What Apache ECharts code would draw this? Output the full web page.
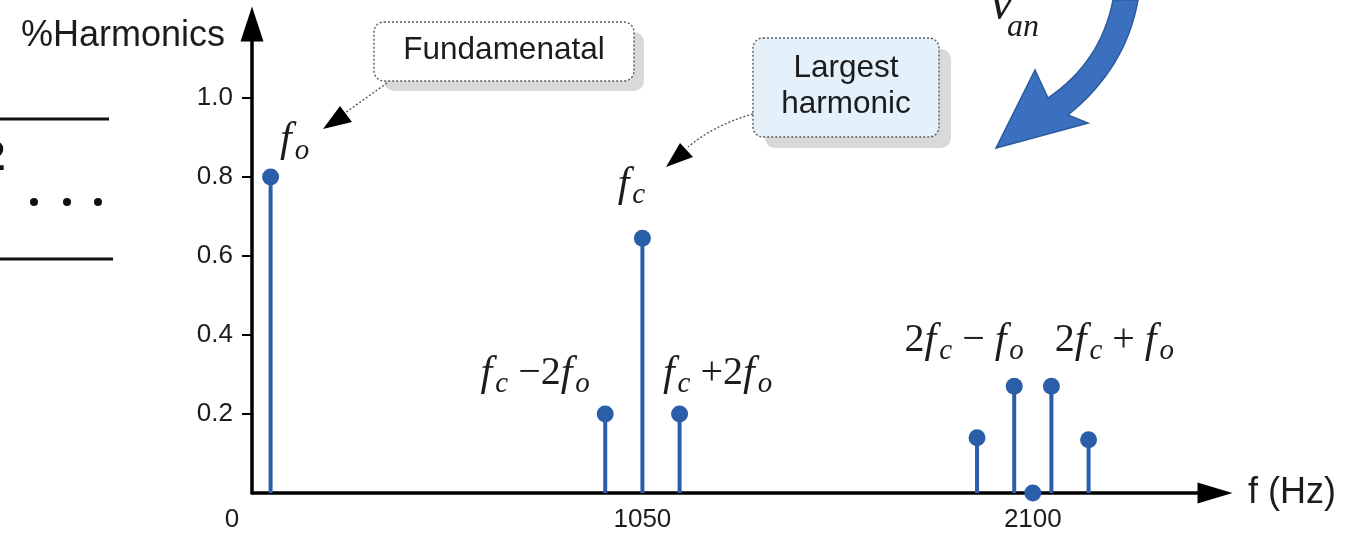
<!DOCTYPE html>
<html>
<head>
<meta charset="utf-8">
<script src="https://cdn.jsdelivr.net/npm/echarts@6/dist/echarts.min.js"></script>
<style>
html,body{margin:0;padding:0;background:#fff;}
#chart{width:1356px;height:537px;}
</style>
</head>
<body>
<div id="chart"></div>
<script>
// ---- data ----
const freqHz = [50, 950, 1050, 1150, 1950, 2050, 2100, 2150, 2250];
const harmonics = [0.80, 0.20, 0.645, 0.20, 0.14, 0.27, 0.0, 0.27, 0.135];
const stemLabels = [
  '{f|f}{s|o}',
  '{f|f}{s|c}{n| \u22122}{f|f}{s|o}',
  '{f|f}{s|c}',
  '{f|f}{s|c}{n| +2}{f|f}{s|o}',
  '',
  '{n|2}{f|f}{s|c}{n| \u2212 }{f|f}{s|o}',
  '',
  '{n|2}{f|f}{s|c}{n| + }{f|f}{s|o}',
  ''
];
const xTickValues = [0, 1050, 2100];
const yTickValues = [0.2, 0.4, 0.6, 0.8, 1.0];
const yAxisTitle = '%Harmonics';
const xAxisTitle = 'f (Hz)';
const calloutFund = 'Fundamenatal';
const calloutLargest = 'Largest\nharmonic';

// ---- styling / layout ----
const BLUE = '#2a5ea8';
const INK = '#1c1c1c';
const SANS = 'Liberation Sans, Arial, sans-serif';
const SERIF = 'Liberation Serif, Times New Roman, serif';
// label layout per stem index: [dx, distance]
const labelLayout = {0: [24, 4], 1: [-70, 8], 2: [-11, 21], 3: [38, 8], 5: [-50, 13], 7: [63, 13]};

const richMath = {
  f: {fontFamily: SERIF, fontStyle: 'italic', fontSize: 42, lineHeight: 48, color: INK},
  s: {fontFamily: SERIF, fontStyle: 'italic', fontSize: 29, lineHeight: 29, padding: [22, 0, 0, 3], color: INK},
  n: {fontFamily: SERIF, fontSize: 40, lineHeight: 48, color: INK}
};

const points = freqHz.map((x, i) => {
  const item = {value: [x, harmonics[i]]};
  if (stemLabels[i]) {
    const lay = labelLayout[i] || [0, 10];
    item.label = {show: true, position: 'top', distance: lay[1], offset: [lay[0], 0],
      formatter: stemLabels[i], rich: richMath, color: INK, opacity: 1};
  }
  return item;
});

// quadratic curve sampler for decorative shapes
function quad(p0, c, p1, n) {
  const out = [];
  for (let k = 0; k <= n; k++) {
    const t = k / n, u = 1 - t;
    out.push([u * u * p0[0] + 2 * u * t * c[0] + t * t * p1[0], u * u * p0[1] + 2 * u * t * c[1] + t * t * p1[1]]);
  }
  return out;
}
const bigArrow = [].concat(
  quad([1113, 0], [1101, 62], [1048, 98], 16),
  [[1035, 70], [996, 148], [1088, 123]],
  quad([1068, 115], [1126, 68], [1138, 0], 16)
);

const chart = echarts.init(document.getElementById('chart'), null, {renderer: 'canvas'});

const dashed = {stroke: '#5a5a5a', lineWidth: 1.4, lineDash: [2, 2], fill: null};

chart.setOption({
  animation: false,
  backgroundColor: '#fff',
  grid: {left: 252, right: 141, top: 24, bottom: 44, containLabel: false, outerBoundsMode: 'none'},
  xAxis: {
    type: 'value', min: 0, max: 2590,
    name: xAxisTitle, nameLocation: 'end', nameGap: 33,
    nameTextStyle: {fontFamily: SANS, fontSize: 36, color: INK, verticalAlign: 'middle'},
    axisLine: {show: true, onZero: false, symbol: ['none', 'triangle'], symbolSize: [21, 35],
      lineStyle: {color: '#000', width: 3.5}},
    axisTick: {show: false},
    splitLine: {show: false},
    axisLabel: {customValues: xTickValues, margin: 14, fontFamily: SANS, fontSize: 26, color: INK,
      formatter: v => v === 0 ? '{z|0}' : String(v),
      rich: {z: {fontFamily: SANS, fontSize: 26, color: INK, padding: [0, 40, 0, 0]}}}
  },
  yAxis: {
    type: 'value', min: 0, max: 1.187,
    name: yAxisTitle, nameLocation: 'end', nameGap: -12,
    nameTextStyle: {fontFamily: SANS, fontSize: 36, color: INK, align: 'right', verticalAlign: 'middle', padding: [0, 27, 0, 0]},
    axisLine: {show: true, onZero: false, symbol: ['none', 'triangle'], symbolSize: [23, 35],
      lineStyle: {color: '#000', width: 3.5}},
    axisTick: {show: true, customValues: yTickValues, length: 10, lineStyle: {color: '#000', width: 2}},
    splitLine: {show: false},
    axisLabel: {customValues: yTickValues, margin: 19, fontFamily: SANS, fontSize: 26, color: INK,
      formatter: v => v.toFixed(1)}
  },
  series: [
    {type: 'bar', data: freqHz.map((x, i) => [x, harmonics[i]]), barWidth: 4,
      itemStyle: {color: BLUE, opacity: 1}, silent: true, z: 2},
    {type: 'scatter', data: points, symbol: 'circle', symbolSize: 17,
      itemStyle: {color: BLUE, opacity: 1}, z: 3}
  ],
  graphic: [
    // fragment of equation at left edge
    {type: 'line', shape: {x1: 0, y1: 119, x2: 109, y2: 119}, style: {stroke: '#111', lineWidth: 3}},
    {type: 'line', shape: {x1: 0, y1: 259, x2: 113, y2: 259}, style: {stroke: '#111', lineWidth: 3}},
    {type: 'text', x: -18, y: 158, style: {text: '2', font: 'bold 42px ' + SANS, fill: '#111', verticalAlign: 'middle'}},
    {type: 'circle', shape: {cx: 34, cy: 202, r: 4}, style: {fill: '#111'}},
    {type: 'circle', shape: {cx: 67, cy: 202, r: 4}, style: {fill: '#111'}},
    {type: 'circle', shape: {cx: 98, cy: 202, r: 4}, style: {fill: '#111'}},
    // v_an fragment and blue arrow at top right
    {type: 'text', x: 990, y: 4, style: {text: 'v', font: 'italic 52px ' + SERIF, fill: INK, verticalAlign: 'middle'}},
    {type: 'text', x: 1007, y: 28, style: {text: 'an', font: 'italic 32px ' + SERIF, fill: INK, verticalAlign: 'middle'}},
    {type: 'polygon', shape: {points: bigArrow}, style: {fill: '#3a70bd', stroke: '#2d5c9e', lineWidth: 1.5}},
    // callout: Fundamenatal
    {type: 'rect', shape: {x: 384, y: 32, width: 260, height: 59, r: 10}, style: {fill: '#d9d9d9'}},
    {type: 'rect', shape: {x: 374, y: 22, width: 260, height: 59, r: 10}, style: {fill: '#fff', stroke: '#5a5a5a', lineWidth: 1.4, lineDash: [2, 2]}},
    {type: 'text', x: 504, y: 50, style: {text: calloutFund, font: '31.5px ' + SANS, fill: INK, align: 'center', verticalAlign: 'middle'}},
    {type: 'line', shape: {x1: 387, y1: 83, x2: 345, y2: 113}, style: dashed},
    {type: 'polygon', shape: {points: [[323, 129], [340, 106], [352, 122]]}, style: {fill: '#000'}},
    // callout: Largest harmonic
    {type: 'rect', shape: {x: 765, y: 49, width: 186, height: 99, r: 10}, style: {fill: '#d9d9d9'}},
    {type: 'rect', shape: {x: 753, y: 38, width: 186, height: 99, r: 10}, style: {fill: '#e4f0fa', stroke: '#5a5a5a', lineWidth: 1.4, lineDash: [2, 2]}},
    {type: 'text', x: 846, y: 86, style: {text: calloutLargest, font: '31.5px ' + SANS, lineHeight: 36, fill: INK, align: 'center', verticalAlign: 'middle'}},
    {type: 'bezierCurve', shape: {x1: 753, y1: 114, cpx1: 716, cpy1: 124, x2: 688, y2: 147}, style: dashed},
    {type: 'polygon', shape: {points: [[666, 167], [680, 143], [693, 157]]}, style: {fill: '#000'}}
  ]
});
</script>
</body>
</html>
